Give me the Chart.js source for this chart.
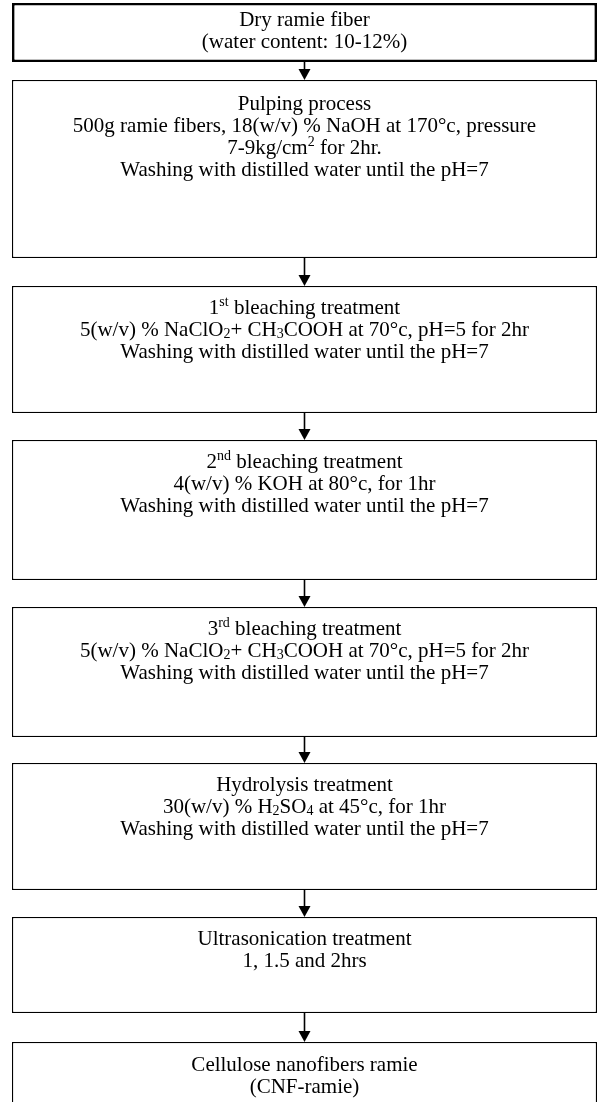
<!DOCTYPE html>
<html>
<head>
<meta charset="utf-8">
<script src="https://cdn.jsdelivr.net/npm/chart.js@4/dist/chart.umd.min.js"></script>
<style>
html,body{margin:0;padding:0;background:#fff;overflow:hidden;}
#wrap{width:609px;height:1102px;position:relative;overflow:hidden;}
canvas{display:block;}
</style>
</head>
<body>
<div id="wrap"><canvas id="c" width="609" height="1102"></canvas></div>
<script>
// Flowchart steps (top -> bottom), in diagram units (0..1102 on a reversed y scale)
const steps = [
  'Dry ramie fiber',
  'Pulping process',
  '1st bleaching treatment',
  '2nd bleaching treatment',
  '3rd bleaching treatment',
  'Hydrolysis treatment',
  'Ultrasonication treatment',
  'Cellulose nanofibers ramie'
];
const stepStart = [3, 80, 286, 440, 607, 763, 917, 1042];
const stepEnd   = [62, 258, 413, 580, 737, 890, 1013, 1140];

// Text lines per step; ^{..} = superscript, _{..} = subscript
const stepText = [
  ['Dry ramie fiber', '(water content: 10-12%)'],
  ['Pulping process', '500g ramie fibers, 18(w/v) % NaOH at 170°c, pressure', '7-9kg/cm^{2} for 2hr.', 'Washing with distilled water until the pH=7'],
  ['1^{st} bleaching treatment', '5(w/v) % NaClO_{2}+ CH_{3}COOH at 70°c, pH=5 for 2hr', 'Washing with distilled water until the pH=7'],
  ['2^{nd} bleaching treatment', '4(w/v) % KOH at 80°c, for 1hr', 'Washing with distilled water until the pH=7'],
  ['3^{rd} bleaching treatment', '5(w/v) % NaClO_{2}+ CH_{3}COOH at 70°c, pH=5 for 2hr', 'Washing with distilled water until the pH=7'],
  ['Hydrolysis treatment', '30(w/v) % H_{2}SO_{4} at 45°c, for 1hr', 'Washing with distilled water until the pH=7'],
  ['Ultrasonication treatment', '1, 1.5 and 2hrs'],
  ['Cellulose nanofibers ramie', '(CNF-ramie)']
];

// layout / style
const FONT_FAMILY = '"Liberation Serif", "Times New Roman", serif';
const FONT_SIZE = 21;
const LINE_H = 22;
const FIRST_LINE_OFFSET = [16, 23, 21, 21, 21, 21, 21, 22];

function parseRich(str) {
  const parts = [];
  const re = /(\^\{[^}]*\}|_\{[^}]*\})/g;
  let last = 0, m;
  while ((m = re.exec(str)) !== null) {
    if (m.index > last) parts.push({t: str.slice(last, m.index), k: 'n'});
    parts.push({t: m[0].slice(2, -1), k: m[0][0] === '^' ? 'sup' : 'sub'});
    last = re.lastIndex;
  }
  if (last < str.length) parts.push({t: str.slice(last), k: 'n'});
  return parts;
}

function fontFor(k) {
  const s = k === 'n' ? FONT_SIZE : Math.round(FONT_SIZE * 0.65);
  return s + 'px ' + FONT_FAMILY;
}

const flowPlugin = {
  id: 'flowText',
  afterDatasetsDraw(chart) {
    const ctx = chart.ctx;
    const cx = chart.scales.x.getPixelForValue(0);
    const bars = chart.data.datasets.map((d, i) => chart.getDatasetMeta(i).data[0]);
    ctx.save();
    // arrows between consecutive boxes
    ctx.strokeStyle = '#000';
    ctx.fillStyle = '#000';
    for (let i = 0; i < bars.length - 1; i++) {
      const a = bars[i], b = bars[i + 1];
      const y0 = Math.max(a.y, a.base);
      const y1 = Math.min(b.y, b.base);
      ctx.lineWidth = 1.6;
      ctx.beginPath();
      ctx.moveTo(cx, y0);
      ctx.lineTo(cx, y1 - 10);
      ctx.stroke();
      ctx.beginPath();
      ctx.moveTo(cx - 6, y1 - 11);
      ctx.lineTo(cx + 6, y1 - 11);
      ctx.lineTo(cx, y1);
      ctx.closePath();
      ctx.fill();
    }
    // text
    ctx.textAlign = 'left';
    ctx.textBaseline = 'alphabetic';
    ctx.fillStyle = '#000';
    bars.forEach((bar, i) => {
      const top = Math.min(bar.y, bar.base);
      stepText[i].forEach((line, j) => {
        const parts = parseRich(line);
        let w = 0;
        parts.forEach(p => { ctx.font = fontFor(p.k); p.w = ctx.measureText(p.t).width; w += p.w; });
        let x = cx - w / 2;
        const base = top + FIRST_LINE_OFFSET[i] + j * LINE_H + FONT_SIZE * 0.33;
        parts.forEach(p => {
          ctx.font = fontFor(p.k);
          let dy = 0;
          if (p.k === 'sup') dy = -FONT_SIZE * 0.36;
          if (p.k === 'sub') dy = FONT_SIZE * 0.12;
          ctx.fillText(p.t, x, base + dy);
          x += p.w;
        });
      });
    });
    ctx.restore();
  }
};

new Chart(document.getElementById('c'), {
  type: 'bar',
  data: {
    labels: ['flow'],
    datasets: steps.map((s, i) => ({
      label: s,
      data: [[stepStart[i], stepEnd[i]]],
      backgroundColor: '#ffffff',
      borderColor: '#000000',
      borderWidth: i === 0 ? 2.6 : 1.3,
      borderSkipped: false,
      grouped: false,
      barPercentage: 1,
      categoryPercentage: 1,
      inflateAmount: 0
    }))
  },
  options: {
    responsive: false,
    animation: false,
    devicePixelRatio: 1,
    layout: { padding: { left: 12, right: 12, top: 0, bottom: 0 } },
    plugins: { legend: { display: false }, tooltip: { enabled: false } },
    scales: {
      x: { display: false },
      y: { display: false, reverse: true, min: 0, max: 1102 }
    }
  },
  plugins: [flowPlugin]
});
</script>
</body>
</html>
